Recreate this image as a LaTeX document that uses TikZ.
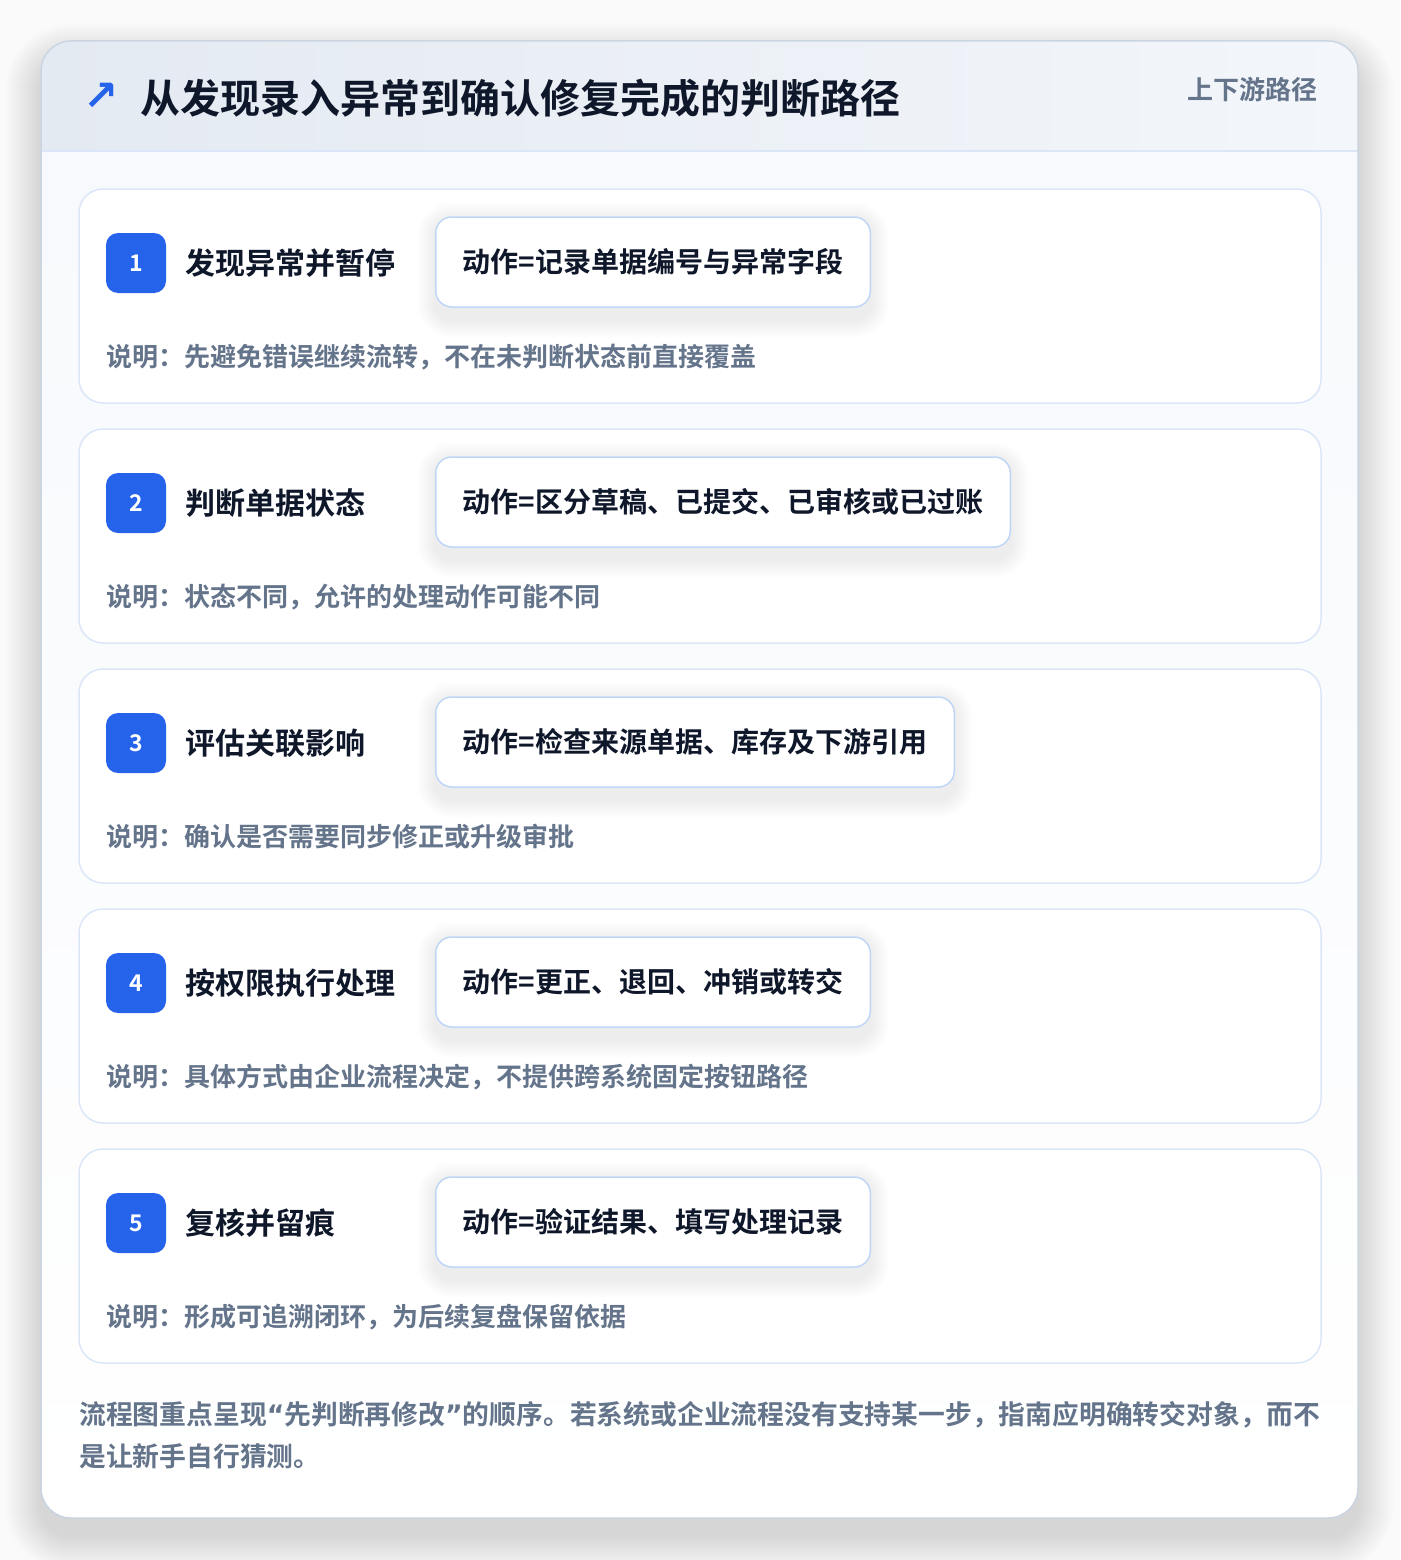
\documentclass[tikz,border=0pt]{standalone}
\usepackage{fontspec}
\setmainfont{Noto Sans CJK SC}[BoldFont={Noto Sans CJK SC Bold}]
\newfontfamily\symfont{DejaVu Sans}
\usetikzlibrary{positioning}
\pgfdeclarelayer{background}
\pgfdeclarelayer{shade}
\pgfsetlayers{background,shade,main}
\definecolor{pageback}{HTML}{FAFAFB}
\definecolor{cardline}{HTML}{CBD5E1}
\definecolor{bodyback}{HTML}{F7F9FC}
\definecolor{headleft}{HTML}{E4EAF2}
\definecolor{headright}{HTML}{F3F6FA}
\definecolor{stepline}{HTML}{DBE7F8}
\definecolor{actline}{HTML}{BFD6F6}
\definecolor{badgeblue}{HTML}{2563EB}
\definecolor{inkdark}{HTML}{0F172A}
\definecolor{inkgray}{HTML}{64748B}

\begin{document}
\begin{tikzpicture}[x=1pt,y=-1pt,
  stepcard/.style={draw=stepline,line width=1.5pt,fill=white,rounded corners=24pt},
  badge/.style={fill=badgeblue,text=white,rounded corners=12pt,minimum size=60pt,inner sep=0pt,font=\bfseries\fontsize{23}{23}\selectfont},
  steptitle/.style={inner sep=0pt,text=inkdark,font=\bfseries\fontsize{30}{30}\selectfont},
  actbox/.style={draw=actline,line width=1.5pt,fill=white,rounded corners=16pt,minimum height=90pt,inner xsep=27pt,text=inkdark,font=\bfseries\fontsize{28}{28}\selectfont},
  note/.style={inner sep=0pt,text=inkgray,font=\bfseries\fontsize{26}{26}\selectfont}]
\useasboundingbox (0,0) rectangle (1400,1560);

\begin{pgfonlayer}{background}
\fill[pageback] (0,0) rectangle (1400,1560);
%Shadow
\foreach \i in {1,...,36}
\fill[black,opacity=0.0035,rounded corners=30pt+\i pt] (41-\i,60-\i) rectangle (1358+\i,1536+\i);
%Card
\fill[white,rounded corners=30pt] (41,41) rectangle (1358,1518);
\begin{scope}
\clip[rounded corners=30pt] (41,41) rectangle (1358,1518);
\shade[top color=bodyback,bottom color=white] (41,151) rectangle (1358,1518);
\shade[left color=headleft,right color=headright] (41,41) rectangle (1358,151);
\draw[stepline,line width=1.5pt] (41,151) -- (1358,151);
\end{scope}
\draw[cardline,line width=1.5pt,rounded corners=30pt] (41,41) rectangle (1358,1518);
\end{pgfonlayer}

%Header
\node(icon) at (101,97) {\symfont\bfseries\fontsize{42}{42}\selectfont\color{badgeblue}↗};
\node(title)[anchor=west,inner sep=0pt,text=inkdark,font=\bfseries\fontsize{40}{40}\selectfont] at (140,98) {从发现录入异常到确认修复完成的判断路径};
\node(tag)[anchor=east,note] at (1318,90) {上下游路径};

%Steps
\foreach \n/\name/\act/\desc in {
  1/{发现异常并暂停}/{动作=记录单据编号与异常字段}/{说明：先避免错误继续流转，不在未判断状态前直接覆盖},
  2/{判断单据状态}/{动作=区分草稿、已提交、已审核或已过账}/{说明：状态不同，允许的处理动作可能不同},
  3/{评估关联影响}/{动作=检查来源单据、库存及下游引用}/{说明：确认是否需要同步修正或升级审批},
  4/{按权限执行处理}/{动作=更正、退回、冲销或转交}/{说明：具体方式由企业流程决定，不提供跨系统固定按钮路径},
  5/{复核并留痕}/{动作=验证结果、填写处理记录}/{说明：形成可追溯闭环，为后续复盘保留依据}}
{
\pgfmathsetmacro{\top}{189+240*(\n-1)}
\begin{pgfonlayer}{background}
\draw[stepcard] (79,\top) rectangle (1321,\top+214);
\end{pgfonlayer}
\node(act\n)[actbox,anchor=west] at (435,\top+73) {\act};
\begin{pgfonlayer}{shade}
\foreach \k in {1,...,18}
\fill[black,opacity=0.004,rounded corners=16pt+\k pt] ([xshift=-\k pt,yshift=-12pt-\k pt]act\n.south west) rectangle ([xshift=\k pt,yshift=-4pt+\k pt]act\n.north east);
\end{pgfonlayer}
\node(badge\n)[badge] at (136,\top+74) {\n};
\node(name\n)[steptitle,right=19pt of badge\n] {\name};
\node(desc\n)[note,anchor=west] at (106,\top+168) {\desc};
}

%Footer
\node(foot1)[note,anchor=west,font=\bfseries\fontsize{26.8}{26.8}\selectfont] at (79,1415) {流程图重点呈现{\symfont“}先判断再修改{\symfont”}的顺序。若系统或企业流程没有支持某一步，指南应明确转交对象，而不};
\node(foot2)[note,anchor=west,font=\bfseries\fontsize{26.8}{26.8}\selectfont] at (79,1456) {是让新手自行猜测。};
\end{tikzpicture}
\end{document}
